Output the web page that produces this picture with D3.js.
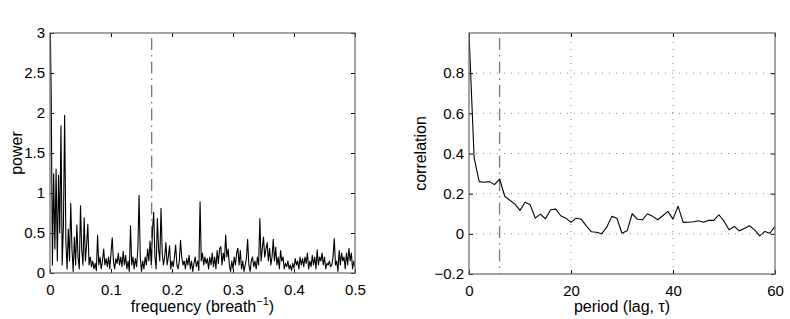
<!DOCTYPE html>
<html><head><meta charset="utf-8">
<script src="https://cdn.jsdelivr.net/npm/d3@7"></script>
<style>
body{margin:0;background:#fff;}
svg text{font-family:"Liberation Sans",Arial,Helvetica,sans-serif;}
</style></head>
<body><svg id="c" width="790" height="319"></svg>
<script>
// ---- data ----
const freqStep = 0.002;
const power = [
3.3,2.2,0.1,1.24,0.3,1.3,0.15,1.22,0.5,1.84,0.1,0.6,1.97,0.4,0.05,0.55,0.15,0.87,0.3,0.02,0.45,0.1,0.6,0.2,0.05,
0.84,0.3,0.1,0.69,0.15,0.35,0.61,0.1,0.2,0.08,0.15,0.05,0.12,0.03,0.47,0.1,0.2,0.05,0.15,0.3,0.1,0.18,0.08,0.2,0.05,
0.25,0.44,0.15,0.05,0.18,0.12,0.25,0.1,0.2,0.08,0.27,0.1,0.22,0.05,0.15,0.02,0.59,0.1,0.2,0.05,0.18,0.08,0.3,0.97,0.2,
0.02,0.15,0.05,0.2,0.1,0.3,0.15,0.4,0.1,0.53,0.76,0.2,0.05,0.68,0.3,0.15,0.81,0.25,0.1,0.2,0.38,0.1,0.2,0.34,0.05,
0.15,0.08,0.2,0.35,0.1,0.05,0.15,0.41,0.2,0.1,0.15,0.05,0.18,0.1,0.22,0.05,0.15,0.02,0.12,0.2,0.08,0.15,0.03,0.89,0.15,
0.25,0.1,0.2,0.12,0.18,0.05,0.2,0.1,0.25,0.08,0.2,0.05,0.28,0.12,0.3,0.33,0.1,0.25,0.15,0.475,0.2,0.3,0.1,0.02,0.15,
0.05,0.2,0.1,0.25,0.31,0.1,0.28,0.05,0.15,0.02,0.1,0.18,0.42,0.1,0.02,0.15,0.2,0.08,0.15,0.05,0.2,0.1,0.68,0.15,0.3,
0.45,0.2,0.3,0.38,0.15,0.31,0.1,0.2,0.42,0.15,0.32,0.1,0.2,0.05,0.28,0.15,0.2,0.05,0.12,0.08,0.15,0.05,0.1,0.03,0.12,
0.06,0.18,0.1,0.15,0.05,0.2,0.1,0.18,0.08,0.2,0.12,0.25,0.05,0.15,0.08,0.22,0.1,0.2,0.05,0.29,0.1,0.2,0.15,0.25,0.1,
0.2,0.05,0.12,0.1,0.15,0.08,0.1,0.2,0.43,0.1,0.15,0.02,0.28,0.1,0.25,0.15,0.2,0.05,0.25,0.1,0.31,0.15,0.25,0.05,0.15,
0.08];
const correlation = [
1.0,0.38,0.26,0.257,0.26,0.245,0.273,0.187,0.167,0.148,0.117,0.157,0.145,0.078,0.098,0.075,0.12,0.123,0.09,0.078,
0.057,0.078,0.073,0.04,0.01,0.008,0.0,0.033,0.087,0.078,0.003,0.015,0.1,0.073,0.07,0.1,0.087,0.07,0.09,0.112,
0.073,0.137,0.057,0.058,0.06,0.065,0.058,0.068,0.067,0.095,0.063,0.02,0.037,0.015,0.027,0.04,0.02,-0.01,0.012,0.003,
0.037];
const breathFreq = 1/6;   // marker line, left plot
const breathLag = 6;      // marker line, right plot
const leftXTicks = [0,0.1,0.2,0.3,0.4,0.5];
const leftXLabels = ["0","0.1","0.2","0.3","0.4","0.5"];
const leftYTicks = [0,0.5,1,1.5,2,2.5,3];
const leftYLabels = ["0","0.5","1","1.5","2","2.5","3"];
const rightXTicks = [0,20,40,60];
const rightXLabels = ["0","20","40","60"];
const rightYTicks = [-0.2,0,0.2,0.4,0.6,0.8];
const rightYLabels = ["\u22120.2","0","0.2","0.4","0.6","0.8"];

// ---- drawing ----
const svg = d3.select("#c");
const TICKFS = 15, LABFS = 16;

function panel(opts){
  const {x, y, xt, xl, yt, yl, id} = opts;
  const [x0,x1] = x.range(), [y0,y1] = y.range(); // y0 bottom, y1 top
  const g = svg.append("g");
  g.append("clipPath").attr("id",id).append("rect")
    .attr("x",x0).attr("y",y1).attr("width",x1-x0).attr("height",y0-y1);

  if(opts.grid){
    const gg = g.append("g").attr("stroke","#888").attr("stroke-width",1).attr("stroke-dasharray","1,6");
    xt.filter(v=>v>x.domain()[0] && v<x.domain()[1]).forEach(v=>{
      gg.append("line").attr("x1",x(v)).attr("x2",x(v)).attr("y1",y0).attr("y2",y1);
    });
    yt.filter(v=>v>y.domain()[0] && v<y.domain()[1]).forEach(v=>{
      gg.append("line").attr("x1",x0).attr("x2",x1).attr("y1",y(v)).attr("y2",y(v));
    });
  }

  // marker line
  g.append("line").attr("x1",x(opts.marker)).attr("x2",x(opts.marker))
    .attr("y1",y1+5).attr("y2",y0)
    .attr("stroke","#777").attr("stroke-width",1.3).attr("stroke-dasharray","12,5,1.5,5");

  // data line
  g.append("path").datum(opts.data)
    .attr("clip-path",`url(#${id})`)
    .attr("fill","none").attr("stroke","#000").attr("stroke-width",1.1)
    .attr("stroke-linejoin","round")
    .attr("d", d3.line().x(d=>x(d[0])).y(d=>y(d[1])));

  const fmt = (ticks,labels)=> (d)=> labels[ticks.indexOf(d)];
  const styleAxis = a => { a.select(".domain").remove(); a.selectAll(".tick line").attr("stroke","#000"); 
     a.selectAll("text").attr("font-size",TICKFS).attr("fill","#000").attr("font-family",'"Liberation Sans",Arial,Helvetica,sans-serif'); };

  g.append("g").attr("transform",`translate(0,${y0})`)
    .call(d3.axisBottom(x).tickValues(xt).tickFormat(fmt(xt,xl)).tickSize(-4).tickPadding(11))
    .call(styleAxis);
  g.append("g").attr("transform",`translate(0,${y1})`)
    .call(d3.axisTop(x).tickValues(xt).tickFormat("").tickSize(-4))
    .call(styleAxis);
  g.append("g").attr("transform",`translate(${x0},0)`)
    .call(d3.axisLeft(y).tickValues(yt).tickFormat(fmt(yt,yl)).tickSize(-4).tickPadding(5))
    .call(styleAxis);
  g.append("g").attr("transform",`translate(${x1},0)`)
    .call(d3.axisRight(y).tickValues(yt).tickFormat("").tickSize(-4))
    .call(styleAxis);

  g.append("rect").attr("x",x0).attr("y",y1).attr("width",x1-x0).attr("height",y0-y1)
    .attr("fill","none").attr("stroke","#666").attr("stroke-width",1.2);

  // labels
  const xlab = g.append("text").attr("x",(x0+x1)/2).attr("y",312).attr("text-anchor","middle")
    .attr("font-size",LABFS).attr("fill","#000");
  opts.xlabel(xlab);
  g.append("text").attr("transform",`translate(${opts.ylabX},${(y0+y1)/2}) rotate(-90)`)
    .attr("text-anchor","middle").attr("font-size",LABFS).attr("fill","#000").text(opts.ylabel);
}

const xL = d3.scaleLinear().domain([0,0.5]).range([50,355]);
const yL = d3.scaleLinear().domain([0,3]).range([273,33]);
panel({id:"clipL", x:xL, y:yL, xt:leftXTicks, xl:leftXLabels, yt:leftYTicks, yl:leftYLabels,
  data: power.map((v,i)=>[i*freqStep, v]), marker: breathFreq, grid:false,
  ylabel:"power", ylabX:22,
  xlabel: t => { t.append("tspan").text("frequency (breath");
                 t.append("tspan").attr("font-size",11).attr("dy",-7).text("\u22121");
                 t.append("tspan").attr("dy",7).text(")"); }
});

const xR = d3.scaleLinear().domain([0,60]).range([469,775]);
const yR = d3.scaleLinear().domain([-0.2,1]).range([274,33]);
panel({id:"clipR", x:xR, y:yR, xt:rightXTicks, xl:rightXLabels, yt:rightYTicks, yl:rightYLabels,
  data: correlation.map((v,i)=>[i, v]), marker: breathLag, grid:true,
  ylabel:"correlation", ylabX:426,
  xlabel: t => t.text("period (lag, \u03c4)")
});
</script>
</body></html>
